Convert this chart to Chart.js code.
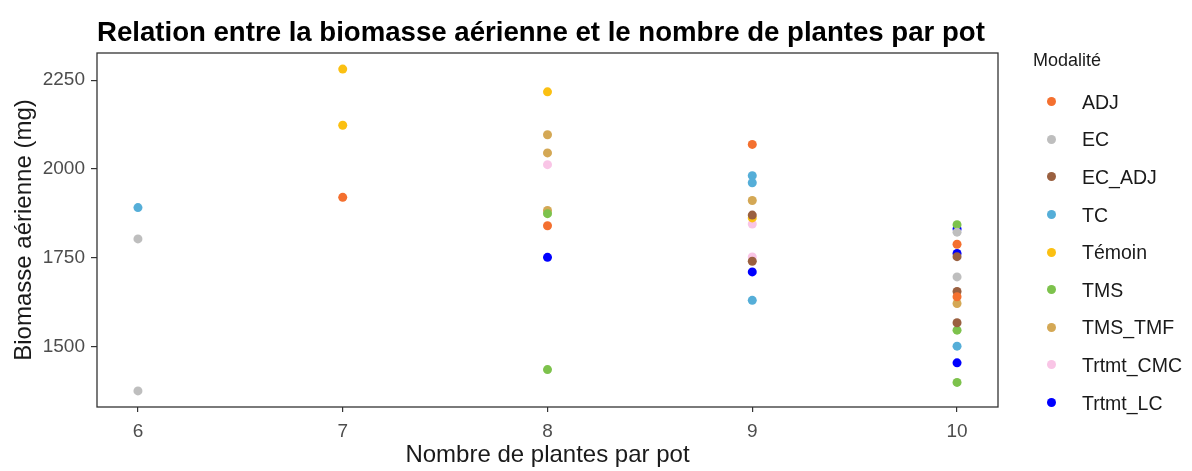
<!DOCTYPE html>
<html>
<head>
<meta charset="utf-8">
<script src="https://cdn.jsdelivr.net/npm/chart.js@4.4.1/dist/chart.umd.min.js"></script>
<style>
  html, body { margin: 0; padding: 0; background: #fff; }
  #wrap { position: relative; width: 1192px; height: 471px; font-family: "Liberation Sans", Arial, sans-serif; }
  #c { position: absolute; left: 0; top: 0; }
  #title { position: absolute; left: 97px; top: 18px; font-size: 27.6px; font-weight: bold; color: #000; line-height: 1; white-space: nowrap; }
  #legend { position: absolute; left: 1033px; top: 47px; color: #1a1a1a; }
  #legend .lt { font-size: 18px; line-height: 26px; margin-bottom: 10px; }
  #legend .it { position: relative; height: 37.6px; font-size: 19.5px; }
  #legend .dot { position: absolute; left: 14px; top: 50%; width: 9px; height: 9px; margin-top: -4.5px; border-radius: 50%; }
  #legend .lab { position: absolute; left: 49px; top: 50%; transform: translateY(-50%); white-space: nowrap; }
</style>
</head>
<body>
<div id="wrap">
  <canvas id="c" width="1192" height="471"></canvas>
  <div id="title">Relation entre la biomasse aérienne et le nombre de plantes par pot</div>
  <div id="legend"></div>
</div>
<script>
// ---- Data ----
const seriesNames = ["ADJ", "EC", "EC_ADJ", "TC", "Témoin", "TMS", "TMS_TMF", "Trtmt_CMC", "Trtmt_LC"];
const seriesColors = ["#F4702F", "#BEBEBE", "#9A6040", "#55AED8", "#FBC012", "#7DC24C", "#D4A855", "#F9C5E6", "#0000FF"];

const adjX = [7, 8, 9, 10, 10];
const adjY = [1920, 1840, 2069, 1788, 1640];
const ecX = [6, 6, 10, 10];
const ecY = [1803, 1375, 1822, 1696];
const ecAdjX = [9, 9, 10, 10, 10];
const ecAdjY = [1870, 1740, 1753, 1655, 1567];
const tcX = [6, 9, 9, 9, 10];
const tcY = [1891, 1981, 1961, 1630, 1501];
const temoinX = [7, 7, 8, 9];
const temoinY = [2281, 2123, 2217, 1862];
const tmsX = [8, 8, 10, 10, 10];
const tmsY = [1874, 1435, 1843, 1546, 1399];
const tmsTmfX = [8, 8, 8, 9, 10];
const tmsTmfY = [2096, 2045, 1883, 1911, 1621];
const cmcX = [8, 9, 9];
const cmcY = [2012, 1845, 1752];
const lcX = [8, 9, 10, 10, 10];
const lcY = [1751, 1710, 1831, 1762, 1454];

const xTickValues = [6, 7, 8, 9, 10];
const yTickValues = [1500, 1750, 2000, 2250];

const seriesXs = [adjX, ecX, ecAdjX, tcX, temoinX, tmsX, tmsTmfX, cmcX, lcX];
const seriesYs = [adjY, ecY, ecAdjY, tcY, temoinY, tmsY, tmsTmfY, cmcY, lcY];

// ---- Build datasets ----
const datasets = seriesNames.map((name, i) => ({
  label: name,
  data: seriesXs[i].map((x, j) => ({ x: x, y: seriesYs[i][j] })),
  backgroundColor: seriesColors[i],
  borderColor: seriesColors[i],
  borderWidth: 0,
  pointRadius: 4.5,
  pointHoverRadius: 4.5
}));

// ggplot-like 5% expansion of the data range
const allX = [].concat(...seriesXs), allY = [].concat(...seriesYs);
const xMinD = Math.min(...allX), xMaxD = Math.max(...allX);
const yMinD = Math.min(...allY), yMaxD = Math.max(...allY);
const xPad = (xMaxD - xMinD) * 0.05, yPad = (yMaxD - yMinD) * 0.05;

// ---- Legend (HTML) ----
const lg = document.getElementById('legend');
lg.innerHTML = '<div class="lt">Modalité</div>' + seriesNames.map((n, i) =>
  '<div class="it"><span class="dot" style="background:' + seriesColors[i] + '"></span><span class="lab">' + n + '</span></div>'
).join('');

const borderPlugin = {
  id: 'panelBorder',
  afterDatasetsDraw(chart) {
    const a = chart.chartArea, ctx = chart.ctx;
    ctx.save();
    ctx.strokeStyle = '#333333';
    ctx.lineWidth = 1.3;
    ctx.strokeRect(a.left, a.top, a.right - a.left, a.bottom - a.top);
    ctx.restore();
  }
};

const tickFont = { family: '"Liberation Sans", Arial, sans-serif', size: 19 };
const titleFont = { family: '"Liberation Sans", Arial, sans-serif', size: 24 };

new Chart(document.getElementById('c'), {
  type: 'scatter',
  data: { datasets: datasets },
  options: {
    responsive: false,
    animation: false,
    events: [],
    layout: { padding: { top: 53, right: 194, bottom: 0, left: 0 } },
    plugins: { legend: { display: false }, title: { display: false }, tooltip: { enabled: false } },
    scales: {
      x: {
        type: 'linear',
        min: xMinD - xPad,
        max: xMaxD + xPad,
        afterBuildTicks: s => { s.ticks = xTickValues.map(v => ({ value: v })); },
        afterFit: s => { s.height = 64; },
        grid: { drawOnChartArea: false, drawTicks: true, tickLength: 5, color: '#333333', lineWidth: 1.2 },
        border: { display: false },
        ticks: { color: '#4D4D4D', font: tickFont, padding: 8, maxRotation: 0, callback: v => String(v) },
        title: { display: true, text: 'Nombre de plantes par pot', color: '#1a1a1a', font: titleFont, padding: { top: 0, bottom: 1 } }
      },
      y: {
        type: 'linear',
        min: yMinD - yPad,
        max: yMaxD + yPad,
        afterBuildTicks: s => { s.ticks = yTickValues.map(v => ({ value: v })); },
        afterFit: s => { s.width = 97; },
        grid: { drawOnChartArea: false, drawTicks: true, tickLength: 6, color: '#333333', lineWidth: 1.2 },
        border: { display: false },
        ticks: { color: '#4D4D4D', font: tickFont, padding: 6, callback: v => String(v) },
        title: { display: true, text: 'Biomasse aérienne (mg)', color: '#1a1a1a', font: titleFont, padding: { top: 10, bottom: 0 } }
      }
    }
  },
  plugins: [borderPlugin]
});
</script>
</body>
</html>
